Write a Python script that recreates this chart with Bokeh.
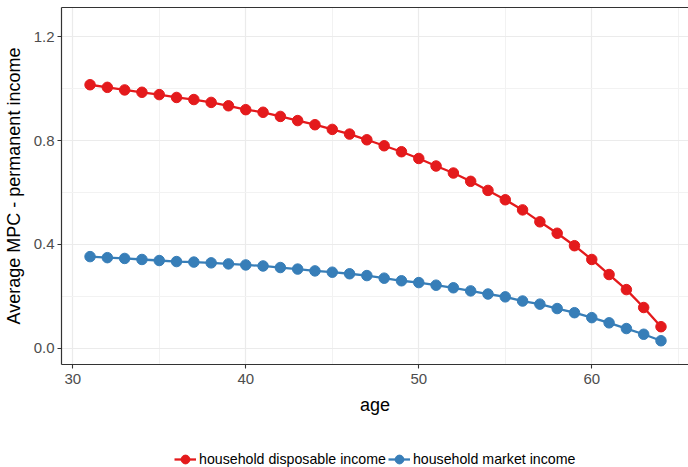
from bokeh.plotting import figure
from bokeh.layouts import column
from bokeh.models import (Range1d, SingleIntervalTicker, LinearAxis, Legend,
                          LegendItem, FixedTicker, CustomJSTickFormatter)
from bokeh.embed import file_html
from bokeh.resources import INLINE

# ---- data ----
age = list(range(31, 65))
disposable = [1.015, 1.005, 0.995, 0.986, 0.977, 0.966, 0.958, 0.947, 0.934,
              0.919, 0.909, 0.893, 0.877, 0.861, 0.843, 0.825, 0.803, 0.780,
              0.757, 0.731, 0.702, 0.675, 0.643, 0.608, 0.572, 0.533, 0.487,
              0.443, 0.395, 0.342, 0.284, 0.226, 0.157, 0.083]
market = [0.353, 0.349, 0.346, 0.342, 0.338, 0.334, 0.332, 0.329, 0.325,
          0.321, 0.317, 0.311, 0.305, 0.298, 0.293, 0.287, 0.280, 0.270,
          0.260, 0.253, 0.243, 0.233, 0.221, 0.209, 0.198, 0.182, 0.170,
          0.153, 0.137, 0.118, 0.098, 0.076, 0.054, 0.029]
series_labels = ["household disposable income", "household market income"]
colors = ["#E41A1C", "#377EB8"]

FONT = "Liberation Sans"

p = figure(width=688, height=440, output_backend="svg", toolbar_location=None,
           x_range=Range1d(29.35, 65.59), y_range=Range1d(-0.0625, 1.3125),
           min_border_left=60, min_border_right=0, min_border_top=7,
           min_border_bottom=76, x_axis_label="age",
           y_axis_label="Average MPC - permanent income")
p.outline_line_color = None
p.background_fill_color = "white"
p.border_fill_color = "white"

p.xaxis.ticker = SingleIntervalTicker(interval=10, num_minor_ticks=2)
p.yaxis.ticker = SingleIntervalTicker(interval=0.4, num_minor_ticks=2)
p.yaxis.formatter = CustomJSTickFormatter(code="return tick.toFixed(1)")

for ax in (p.xaxis[0], p.yaxis[0]):
    ax.axis_line_color = "#333333"
    ax.axis_line_width = 1.2
    ax.major_tick_line_color = "#333333"
    ax.major_tick_line_width = 1.1
    ax.major_tick_out = 4
    ax.major_tick_in = 0
    ax.minor_tick_line_color = None
    ax.major_label_text_font = FONT
    ax.major_label_text_font_size = "15px"
    ax.major_label_text_color = "#4d4d4d"
    ax.axis_label_text_font = FONT
    ax.axis_label_text_font_size = "18px"
    ax.axis_label_text_font_style = "normal"
    ax.axis_label_text_color = "black"
p.xaxis.major_label_standoff = 5
p.xaxis.axis_label_standoff = 8
p.yaxis.major_label_standoff = 3
p.yaxis.axis_label_standoff = 7

top = LinearAxis(ticker=FixedTicker(ticks=[]), axis_line_color="#333333",
                 axis_line_width=1.2, major_tick_line_color=None,
                 minor_tick_line_color=None, major_label_text_font_size="0px",
                 major_label_standoff=0)
p.add_layout(top, "above")

for g in (p.xgrid[0], p.ygrid[0]):
    g.grid_line_color = "#ebebeb"
    g.grid_line_width = 1.2
    g.minor_grid_line_color = "#f2f2f2"
    g.minor_grid_line_width = 1

for vals, col in zip([disposable, market], colors):
    p.line(age, vals, line_color=col, line_width=2.3)
    p.scatter(age, vals, size=10.5, fill_color=col, line_color=col)

# ---- legend strip below the plot ----
lg = figure(width=688, height=27, output_backend="svg", toolbar_location=None,
            x_range=Range1d(0, 1), y_range=Range1d(0, 1),
            x_axis_type=None, y_axis_type=None,
            min_border_left=0, min_border_right=0, min_border_top=0,
            min_border_bottom=0)
lg.outline_line_color = None
lg.xgrid.visible = False
lg.ygrid.visible = False
lg.border_fill_color = "white"
lg.background_fill_color = "white"

items = []
for lab, col in zip(series_labels, colors):
    # single off-range point: only the legend swatch is shown
    rl = lg.line([-10, -9], [-10, -10], line_color=col, line_width=2.3)
    rs = lg.scatter([-10], [-10], size=10.5, fill_color=col, line_color=col)
    items.append(LegendItem(label=lab, renderers=[rl, rs]))

legend = Legend(items=items, orientation="horizontal", location=(113, -3),
                label_text_font=FONT, label_text_font_size="14.2px",
                label_text_color="black", glyph_width=22, glyph_height=22,
                label_height=14, label_standoff=3, spacing=2, padding=0,
                margin=0, border_line_color=None, background_fill_alpha=0)
lg.add_layout(legend)

layout = column(p, lg, spacing=0)
open("out.html", "w").write(file_html(layout, INLINE))
